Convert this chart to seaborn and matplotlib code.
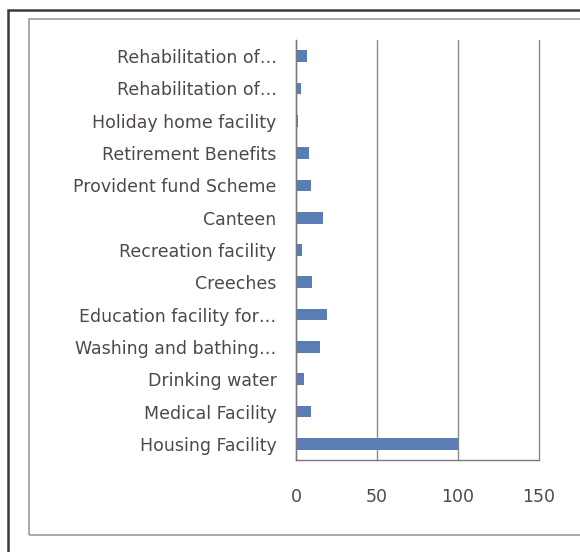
import matplotlib
matplotlib.use("Agg")
import matplotlib.pyplot as plt
import seaborn as sns
import pandas as pd
from matplotlib.patches import Rectangle

categories = [
    "Rehabilitation of…",
    "Rehabilitation of…",
    "Holiday home facility",
    "Retirement Benefits",
    "Provident fund Scheme",
    "Canteen",
    "Recreation facility",
    "Creeches",
    "Education facility for…",
    "Washing and bathing…",
    "Drinking water",
    "Medical Facility",
    "Housing Facility",
]
values = [7, 3, 1.5, 8, 9, 16.5, 4, 10, 19, 15, 5, 9, 100]
x_ticks = [0, 50, 100, 150]

sns.set_style("white")
plt.rcParams['font.family'] = ['DejaVu Sans']

df = pd.DataFrame({"cat": [f"{i}" for i in range(len(categories))], "val": values})

fig = plt.figure(figsize=(5.8, 5.52), dpi=100)
fig.patch.set_facecolor("white")

# frames
fig.add_artist(Rectangle((8/580, 1 - 600/552), 600/580, (600 - 10)/552,
                         transform=fig.transFigure, fill=False,
                         edgecolor="#3a3a3a", linewidth=1.8))
fig.add_artist(Rectangle((29/580, 1 - 535/552), (600 - 29)/580, (535 - 19)/552,
                         transform=fig.transFigure, fill=False,
                         edgecolor="#9a9a9a", linewidth=1.2))

ax = fig.add_axes([296/580, 1 - 460/552, (539 - 296)/580, (460 - 40)/552])
sns.barplot(data=df, x="val", y="cat", orient="h", color="#5A7DB5",
            saturation=1, width=0.36, linewidth=0, ax=ax)

ax.set_xlim(0, 150)
ax.set_ylim(len(categories) - 0.5, -0.5)
ax.set_xticks(x_ticks)
ax.set_xticklabels([str(t) for t in x_ticks])
ax.set_yticks(range(len(categories)))
ax.set_yticklabels(categories)
ax.set_xlabel("")
ax.set_ylabel("")

# y boundary ticks
ax.set_yticks([i - 0.5 for i in range(len(categories) + 1)], minor=True)
ax.tick_params(axis="y", which="major", length=0, pad=14, labelsize=12.5, labelcolor="#504848")
ax.tick_params(axis="y", which="minor", length=4, width=1, color="#7a7a7a", direction="out")
ax.tick_params(axis="x", which="major", length=6, width=1, color="#7a7a7a", direction="out",
               pad=14, labelsize=12.5, labelcolor="#504848")

ax.grid(axis="x", color="#8a8a8a", linewidth=1)
for gl in ax.xaxis.get_gridlines():
    gl.set_clip_on(False)
ax.set_axisbelow(True)
for s in ["top", "right"]:
    ax.spines[s].set_visible(False)
for s in ["left", "bottom"]:
    ax.spines[s].set_color("#7a7a7a")
    ax.spines[s].set_linewidth(1)

fig.savefig("out.png", dpi=100)
